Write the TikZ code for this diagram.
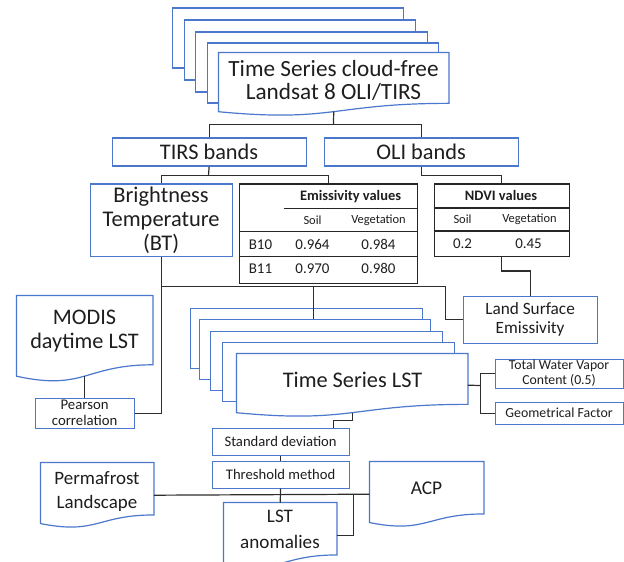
\documentclass[tikz,border=0pt]{standalone}
\usepackage{fontspec}
\setmainfont{Carlito}
\usetikzlibrary{calc}
\definecolor{bluec}{RGB}{75,120,205}
\definecolor{connc}{RGB}{45,45,45}
\definecolor{textc}{RGB}{30,30,30}
\newcommand\setfs[2]{\fontsize{#1}{#2}\selectfont}
\newcommand\docline[1]{%
  \draw[bl] let \p1=(#1.north west), \p2=(#1.south east) in
  (\p1) -- (\x2,\y1) -- (\x2,{\y1+0.802*(\y2-\y1)})
  .. controls ({0.5*(\x1+\x2)},{\y1+0.802*(\y2-\y1)}) and ({0.5*(\x1+\x2)},{\y1+1.107*(\y2-\y1)}) ..
  (\x1,{\y1+0.934*(\y2-\y1)}) -- cycle;}
\begin{document}
\begin{tikzpicture}[x=1bp,y=-1bp,
  bl/.style={draw=bluec,line width=1.2bp,fill=white},
  rbox/.style={bl,rectangle,inner sep=0pt,anchor=north west,text=textc,align=center},
  docn/.style={rectangle,inner sep=0pt,anchor=north west},
  tbox/.style={draw=black!85,line width=1.4bp,fill=white,rectangle,inner sep=0pt,anchor=north west},
  tline/.style={draw=black!85,line width=1.3bp},
  conn/.style={draw=connc,line width=1.2bp},
  txt/.style={inner sep=0pt,align=center,text=textc},
  hd/.style={txt,font=\bfseries\setfs{14.5}{15}},
  sm/.style={txt,font=\setfs{12.5}{13}},
  vl/.style={txt,font=\setfs{15}{16}}]
\useasboundingbox (0,0) rectangle (624,562);
\begin{scope}[shift={(0.5,0.5)}]

% ---------- top multi-document
\node[rbox,minimum width=231bp,minimum height=60bp] (tb1) at (171,7) {};
\node[rbox,minimum width=231bp,minimum height=60bp] (tb2) at (183,19) {};
\node[rbox,minimum width=232bp,minimum height=60bp] (tb3) at (194,31) {};
\node[rbox,minimum width=231bp,minimum height=60bp] (tb4) at (206,42) {};
\node[docn,minimum width=230bp,minimum height=63bp] (top) at (218,52) {};
\docline{top}
\node[txt,font=\setfs{23.3}{23}] (topt) at (333,80) {Time Series cloud-free\\Landsat 8 OLI/TIRS};

% ---------- bands
\node[rbox,minimum width=194bp,minimum height=28bp,font=\setfs{22.4}{24}] (tirs) at (111,137) {TIRS bands};
\node[rbox,minimum width=194bp,minimum height=28bp,font=\setfs{22.4}{24}] (oli) at (323,137) {OLI bands};

% ---------- brightness temperature
\node[rbox,minimum width=142bp,minimum height=72bp,font=\setfs{22.5}{24}] (bt) at (89,183) {Brightness\\Temperature\\(BT)};

% ---------- emissivity table
\node[tbox,minimum width=178bp,minimum height=99bp] (emis) at (238,183) {};
\draw[tline] (283,208) -- (416,208);
\draw[tline] (238,231) -- (416,231);
\draw[tline] (238,256) -- (416,256);
\node[hd] (eh) at (350,196.5) {Emissivity values};
\node[sm] (es) at (312,220) {Soil};
\node[sm] (ev) at (378,220) {Vegetation};
\node[vl] (e10) at (260,244) {B10};
\node[vl] (e10s) at (312,244) {0.964};
\node[vl] (e10v) at (378,244) {0.984};
\node[vl] (e11) at (260,268) {B11};
\node[vl] (e11s) at (312,268) {0.970};
\node[vl] (e11v) at (378,268) {0.980};

% ---------- NDVI table
\node[tbox,minimum width=135bp,minimum height=72bp] (ndvi) at (433,183) {};
\draw[tline] (433,207.5) -- (568,207.5);
\draw[tline] (433,230.5) -- (568,230.5);
\node[hd] (nh) at (500.5,195) {NDVI values};
\node[sm] (ns) at (462,219) {Soil};
\node[sm] (nv) at (529,219) {Vegetation};
\node[vl] (n1) at (462,243) {0.2};
\node[vl] (n2) at (528,243) {0.45};

% ---------- land surface emissivity
\node[rbox,minimum width=134bp,minimum height=47bp,font=\setfs{17.3}{19.5}] (lse) at (462,295) {Land Surface\\Emissivity};

% ---------- MODIS
\node[docn,minimum width=136bp,minimum height=86bp] (modis) at (16,295) {};
\docline{modis}
\node[txt,font=\setfs{22.3}{24}] (modist) at (84,331) {MODIS\\daytime LST};
\node[rbox,minimum width=99bp,minimum height=30bp,font=\setfs{14.8}{16}] (pear) at (34,397) {Pearson\\correlation};

% ---------- Time Series LST multi-document
\node[rbox,minimum width=232bp,minimum height=60bp] (lb1) at (189,307) {};
\node[rbox,minimum width=231bp,minimum height=60bp] (lb2) at (198,318) {};
\node[rbox,minimum width=232bp,minimum height=59bp] (lb3) at (209,330) {};
\node[rbox,minimum width=232bp,minimum height=59bp] (lb4) at (221,341) {};
\node[docn,minimum width=231bp,minimum height=63bp] (tsf) at (236,353) {};
\docline{tsf}
\node[txt,font=\setfs{22.4}{24}] (tst) at (352,379) {Time Series LST};

\node[rbox,minimum width=128bp,minimum height=29bp,font=\setfs{13.8}{15}] (twv) at (494,358) {Total Water Vapor\\Content (0.5)};
\node[rbox,minimum width=128bp,minimum height=22bp,font=\setfs{13.9}{15}] (geo) at (494,401) {Geometrical Factor};

% ---------- lower chain
\node[rbox,minimum width=137bp,minimum height=27bp,font=\setfs{14.7}{16}] (std) at (211,427) {Standard deviation};
\node[rbox,minimum width=137bp,minimum height=27bp,font=\setfs{14.7}{16}] (thr) at (211,460) {Threshold method};

\node[docn,minimum width=113bp,minimum height=65bp] (perm) at (40,462) {};
\docline{perm}
\node[txt,font=\setfs{19}{25}] (permt) at (96.5,491) {Permafrost\\Landscape};
\node[docn,minimum width=114bp,minimum height=65bp] (acp) at (369,461) {};
\docline{acp}
\node[txt,font=\setfs{19.5}{25}] (acpt) at (426,488) {ACP};
\node[docn,minimum width=113bp,minimum height=65bp] (anom) at (223,502) {};
\docline{anom}
\node[txt,font=\setfs{19.2}{26}] (anomt) at (279.5,529) {LST\\anomalies};

% ---------- connectors
\coordinate (topbot) at ($(top.north)!0.933!(top.south)$);
\coordinate (j1) at (333,124);
\draw[conn] (topbot) -- (j1);
\draw[conn] (tirs.north) |- (j1) -| (oli.north);
\coordinate (j2) at (208,175);
\draw[conn] (tirs.south) -- (j2);
\draw[conn] (bt.north) |- (j2) -| (emis.north);
\draw[conn] (oli.south) -- ++(0,9) -| (ndvi.north);
\draw[conn] (ndvi.south) -- ++(0,14) -| (lse.north);
\coordinate (j3) at (160,286);
\coordinate (j4) at (445,286);
\coordinate (j5) at (313,286);
\draw[conn] (bt.south) |- (pear.east);
\draw[conn] (j3) -- (j4) |- (lse.west);
\draw[conn] (j5) -- (j5 |- lb2.north);
\coordinate (modisbot) at ($(modis.north)!0.933!(modis.south)$);
\draw[conn] (modisbot) -- (modisbot |- pear.north);
\coordinate (j6) at (480,385);
\draw[conn] (tsf.east) -- (j6);
\draw[conn] (twv.west) -| (j6) |- (geo.west);
\coordinate (tsbot) at ($(tsf.north)!0.933!(tsf.south)$);
\coordinate (j7) at (333,420);
\draw[conn] (tsbot) |- (j7) -- (j7 |- std.north);
\draw[conn] (std.south) -- (thr.north);
\draw[conn] (thr.south) -- (anom.north);
\draw[conn] (perm.east) -- (acp.west);
\coordinate (j8) at (353,494);
\draw[conn] (anom.east) -| (j8);
\end{scope}
\end{tikzpicture}
\end{document}
